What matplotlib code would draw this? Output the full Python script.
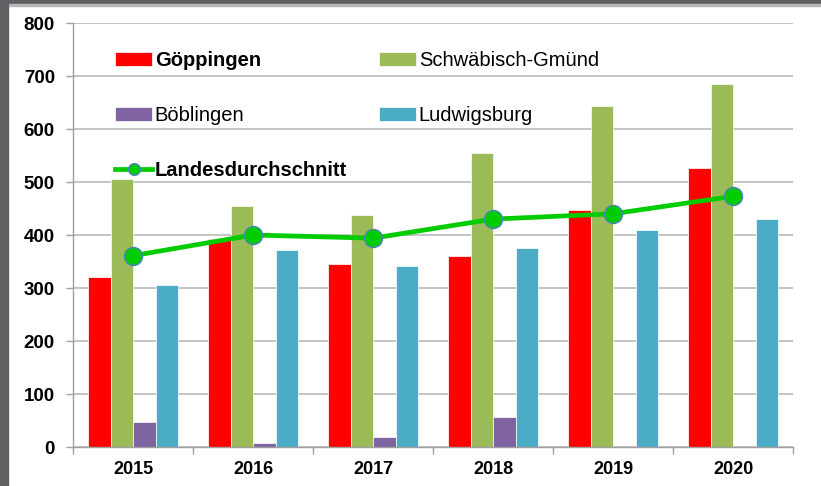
import numpy as np
import matplotlib.pyplot as plt
from matplotlib.patches import Rectangle

years = ["2015", "2016", "2017", "2018", "2019", "2020"]
goeppingen = [320, 392, 346, 361, 447, 527]
schwaebisch_gmuend = [506, 455, 438, 555, 643, 685]
boeblingen = [47, 8, 18, 57, 0, 0]
ludwigsburg = [306, 372, 342, 375, 409, 430]
landesdurchschnitt = [361, 400, 394, 430, 440, 473]

series = [
    ("Göppingen", goeppingen, "#ff0000"),
    ("Schwäbisch-Gmünd", schwaebisch_gmuend, "#9bbb59"),
    ("Böblingen", boeblingen, "#8064a2"),
    ("Ludwigsburg", ludwigsburg, "#4bacc6"),
]

plt.rcParams["font.family"] = ["Liberation Sans", "DejaVu Sans"]

fig = plt.figure(figsize=(8.21, 4.86), dpi=100)
fig.patch.set_facecolor("white")
ax = fig.add_axes([73 / 821, 1 - 447 / 486, 720 / 821, 424 / 486])

x = np.arange(len(years))
w = 0.1875
handles = {}
for i, (name, vals, col) in enumerate(series):
    b = ax.bar(x + (i - 1.5) * w, vals, w, color=col, edgecolor="white",
               linewidth=0.5, label=name, zorder=2)
    handles[name] = b

line, = ax.plot(x, landesdurchschnitt, color="#00cc00", lw=3.4, marker="o",
                markersize=13, markerfacecolor="#00cc00", markeredgecolor="#4f81bd",
                markeredgewidth=1, label="Landesdurchschnitt", zorder=3)

ax.set_xlim(-0.5, 5.5)
ax.set_ylim(0, 800)
ax.set_yticks(range(0, 801, 100))
ax.set_xticks(x)
ax.set_xticklabels(years)
ax.set_xticks(np.arange(-0.5, 6, 1), minor=True)
ax.tick_params(axis="x", which="major", length=0, pad=10, labelsize=13)
ax.tick_params(axis="x", which="minor", length=5, width=1, color="#a0a0a0")
ax.tick_params(axis="y", length=5, width=1, color="#a0a0a0", pad=8, labelsize=13.5)
for lab in ax.get_xticklabels() + ax.get_yticklabels():
    lab.set_fontweight("bold")

ax.grid(axis="y", color="#bfbfbf", lw=1.3, zorder=0)
ax.set_axisbelow(True)
for s in ["top", "right"]:
    ax.spines[s].set_visible(False)
for s in ["left", "bottom"]:
    ax.spines[s].set_color("#a0a0a0")
    ax.spines[s].set_linewidth(1)

order = ["Göppingen", "Böblingen", "Landesdurchschnitt", "Schwäbisch-Gmünd", "Ludwigsburg"]
hmap = dict(handles)
hmap["Landesdurchschnitt"] = line
leg = fig.legend([hmap[k] for k in order], order, ncol=2, loc="upper left",
                 bbox_to_anchor=(115 / 821, 1 - 51 / 486), frameon=False,
                 borderpad=0, borderaxespad=0, fontsize=14.5,
                 handlelength=1.85, handletextpad=0.12, labelspacing=1.8,
                 columnspacing=1.6, markerscale=0.65)
for t in leg.get_texts():
    if t.get_text() in ("Göppingen", "Landesdurchschnitt"):
        t.set_fontweight("bold")

# dark frame at top and left edge
fig.patches.append(Rectangle((0, 1 - 4 / 486), 1, 4 / 486, transform=fig.transFigure,
                             color="#606064", zorder=0))
fig.patches.append(Rectangle((0, 1 - 6 / 486), 1, 2 / 486, transform=fig.transFigure,
                             color="#b8b8b8", zorder=0))
fig.patches.append(Rectangle((0, 0), 8 / 821, 1, transform=fig.transFigure,
                             color="#606064", zorder=0))

fig.savefig("out.png", dpi=100)
